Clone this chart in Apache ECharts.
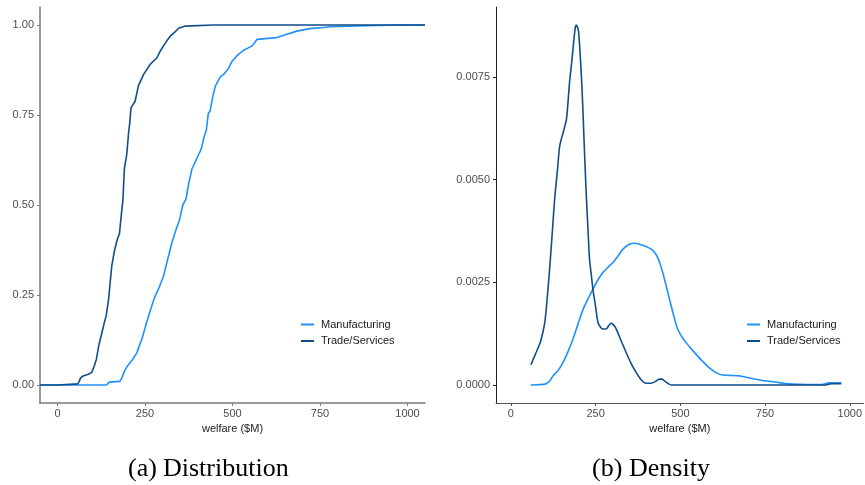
<!DOCTYPE html>
<html>
<head>
<meta charset="utf-8">
<script src="https://cdn.jsdelivr.net/npm/echarts@6/dist/echarts.min.js"></script>
<style>
html,body{margin:0;padding:0;background:#fff;}
#chart{width:865px;height:485px;}
</style>
</head>
<body>
<div id="chart"></div>
<script>
// ---- data ----
var seriesNames = ['Manufacturing', 'Trade/Services'];
var seriesColors = ['#1E90FF', '#104E8B'];
var xTicks = [0, 250, 500, 750, 1000];
var yTicksEcdf = [0, 0.25, 0.5, 0.75, 1];
var yTicksDensity = [0, 0.0025, 0.005, 0.0075];
var xTitle = 'welfare ($M)';
var captionA = ['(a)', 'Distribution'];
var captionB = ['(b)', 'Density'];

// empirical CDF (welfare, cumulative share)
var manufacturingEcdf = [
  [-50,0],[140,0],[148,0.008],[178,0.01],[184,0.02],[192,0.04],[200,0.053],[214,0.07],[227,0.09],
  [234,0.11],[241,0.127],[252,0.165],[263,0.2],[271,0.225],[279,0.247],[290,0.27],[303,0.303],
  [315,0.35],[327,0.396],[338,0.43],[349,0.46],[358,0.5],[367,0.516],[375,0.56],[384,0.6],
  [396,0.625],[408,0.65],[412,0.66],[419,0.69],[425,0.706],[431,0.755],[436,0.761],[444,0.803],
  [451,0.83],[465,0.856],[474,0.862],[489,0.88],[498,0.898],[512,0.914],[532,0.93],[556,0.942],
  [570,0.96],[627,0.965],[655,0.974],[684,0.983],[720,0.99],[760,0.993],[779,0.995],[880,0.998],
  [980,1],[1050,1]
];
var tradeEcdf = [
  [-50,0],[0,0],[3,0.003],[58,0.003],[62,0.01],[66,0.02],[73,0.025],[88,0.03],[98,0.035],
  [104,0.05],[111,0.071],[118,0.11],[127,0.146],[133,0.17],[139,0.192],[146,0.238],[150,0.28],
  [155,0.33],[162,0.37],[171,0.405],[177,0.42],[181,0.46],[187,0.515],[191,0.6],[198,0.641],
  [203,0.7],[206,0.724],[210,0.77],[222,0.789],[231,0.831],[246,0.863],[265,0.891],[284,0.909],
  [295,0.93],[303,0.942],[315,0.96],[322,0.969],[335,0.98],[346,0.991],[365,0.997],[445,1],[1050,1]
];

// kernel density (welfare, density)
var manufacturingDensity = [
  [59,0],[80,0.000005],[102,0.00002],[115,0.0001],[124,0.00022],[140,0.00036],[154,0.00055],
  [168,0.0008],[183,0.00111],[198,0.00148],[213,0.00184],[228,0.0021],[242,0.00233],[257,0.00256],
  [272,0.00274],[286,0.00286],[301,0.00298],[316,0.00314],[330,0.0033],[348,0.00342],[365,0.00345],
  [382,0.00342],[399,0.00337],[415,0.0033],[428,0.00318],[438,0.003],[448,0.00274],[458,0.00242],
  [468,0.00209],[480,0.0017],[492,0.00136],[504,0.00118],[517,0.00103],[531,0.00089],[546,0.00075],
  [565,0.00058],[585,0.00042],[605,0.0003],[625,0.00024],[650,0.00023],[674,0.00022],[698,0.00018],
  [722,0.00014],[750,0.0001],[781,0.00007],[805,0.00004],[830,0.00002],[875,0.00001],[918,0.00001],
  [938,0.00005],[975,0.00005]
];
var tradeDensity = [
  [59,0.00049],[75,0.0008],[88,0.00107],[100,0.00152],[108,0.0022],[115,0.0029],[122,0.0037],
  [129,0.00452],[137,0.0052],[144,0.00582],[154,0.00614],[164,0.00647],[173,0.00736],[180,0.0079],
  [185,0.00833],[190,0.0087],[193,0.00876],[197,0.0087],[200,0.00858],[204,0.0081],[208,0.00752],
  [212,0.0068],[215,0.00614],[219,0.0053],[223,0.00452],[228,0.0037],[232,0.00306],[237,0.0027],
  [242,0.00233],[250,0.0019],[257,0.00152],[265,0.0014],[272,0.00136],[281,0.00136],[289,0.00145],
  [296,0.0015],[304,0.00145],[311,0.00136],[325,0.00108],[340,0.00079],[355,0.00052],[370,0.0003],
  [385,0.00012],[399,0.00004],[414,0.00004],[426,0.00008],[438,0.00014],[446,0.00014],[453,0.0001],
  [463,0.00004],[473,0],[930,0],[945,0.00003],[975,0.00003]
];

// ---- chart ----
var tickFont = {color:'#4d4d4d', fontSize:11, fontFamily:'Liberation Sans, Arial, sans-serif'};
var capFont = 'Liberation Serif, Times New Roman, serif';

function xAxisFor(grid, min, max, axisColor, width){
  return {
    gridIndex: grid, type:'value', min:min, max:max,
    axisLine:{show:true, onZero:false, lineStyle:{color:axisColor, width:width}},
    axisTick:{show:true, length:3, customValues:xTicks, lineStyle:{color:axisColor}},
    axisLabel:Object.assign({customValues:xTicks, margin:5, formatter:function(v){return String(v);}}, tickFont),
    splitLine:{show:false},
    name:xTitle, nameLocation:'middle', nameGap:19,
    nameTextStyle:{color:'#1a1a1a', fontSize:11, fontFamily:'Liberation Sans, Arial, sans-serif'}
  };
}
function yAxisFor(grid, min, max, ticks, digits, axisColor, width){
  return {
    gridIndex: grid, type:'value', min:min, max:max,
    axisLine:{show:true, onZero:false, lineStyle:{color:axisColor, width:width}},
    axisTick:{show:true, length:3, customValues:ticks, lineStyle:{color:axisColor}},
    axisLabel:Object.assign({customValues:ticks, margin:6, formatter:function(v){return v.toFixed(digits);}}, tickFont),
    splitLine:{show:false}
  };
}
function lineSeries(name, idx, data, axisIdx, smooth){
  return {
    name:name, type:'line', xAxisIndex:axisIdx, yAxisIndex:axisIdx,
    data:data, symbol:'none', smooth:smooth, clip:true,
    lineStyle:{color:seriesColors[idx], width:1.6},
    itemStyle:{color:seriesColors[idx]},
    emphasis:{disabled:true}, animation:false
  };
}
function legendAt(left){
  return {
    data:seriesNames, orient:'vertical', left:left, top:319, padding:0,
    icon:'rect', itemWidth:13, itemHeight:2, itemGap:5.5,
    textStyle:{color:'#1a1a1a', fontSize:11, fontFamily:'Liberation Sans, Arial, sans-serif', padding:[0,0,0,2]},
    selectedMode:false
  };
}
function capText(txt, x){
  return {type:'text', left:x, top:456, style:{text:txt, font:'26px ' + capFont, fill:'#000'}};
}

var chart = echarts.init(document.getElementById('chart'), null, {renderer:'canvas'});
chart.setOption({
  animation:false,
  backgroundColor:'#fff',
  grid:[
    {left:40, top:7, width:385, height:396},
    {left:496, top:7, width:369, height:396}
  ],
  xAxis:[
    xAxisFor(0, -50, 1050, '#7a7a7a', 1.5),
    xAxisFor(1, -44, 1041, '#555555', 1)
  ],
  yAxis:[
    yAxisFor(0, -0.05, 1.05, yTicksEcdf, 2, '#7a7a7a', 1.5),
    yAxisFor(1, -0.00044, 0.0092, yTicksDensity, 4, '#222222', 1)
  ],
  legend:[legendAt(301), legendAt(747)],
  series:[
    lineSeries(seriesNames[0], 0, manufacturingEcdf, 0, false),
    lineSeries(seriesNames[1], 1, tradeEcdf, 0, false),
    lineSeries(seriesNames[0], 0, manufacturingDensity, 1, 0.25),
    lineSeries(seriesNames[1], 1, tradeDensity, 1, 0.25)
  ],
  graphic:[
    capText(captionA[0], 128), capText(captionA[1], 163),
    capText(captionB[0], 592), capText(captionB[1], 629)
  ]
});
</script>
</body>
</html>
